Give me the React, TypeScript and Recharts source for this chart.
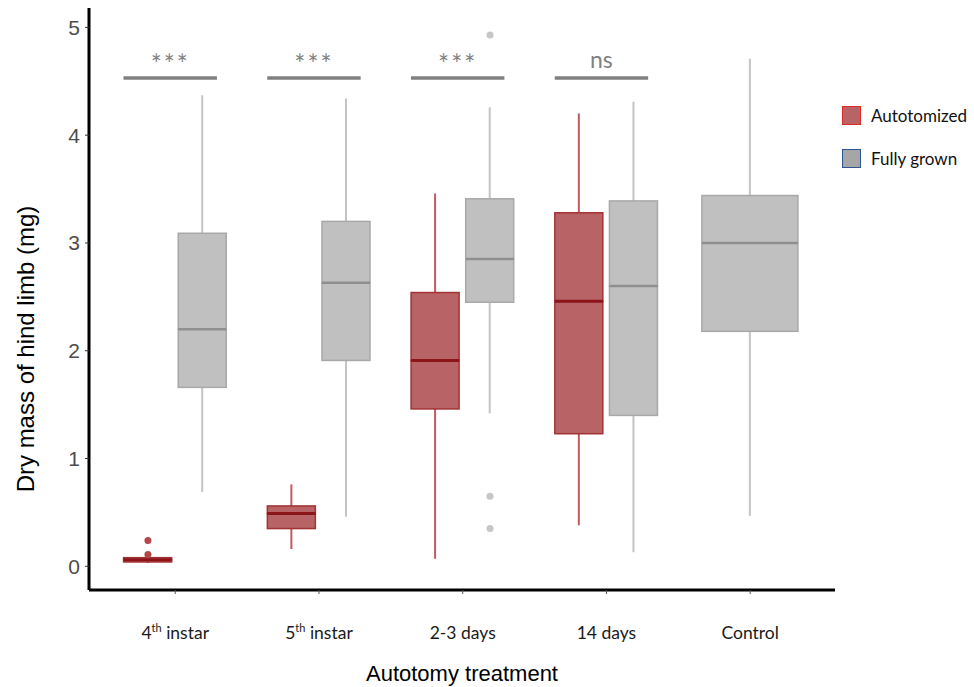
import React from "react";
import {
  Bar,
  ComposedChart,
  Label,
  ReferenceLine,
  Scatter,
  XAxis,
  YAxis,
} from "recharts";

const groups = ["4th instar", "5th instar", "2-3 days", "14 days", "Control"];
const seriesNames = ["Autotomized", "Fully grown"];

// one entry per box
const boxGroup = [1, 1, 2, 2, 3, 3, 4, 4, 5];
const boxSeries = [
  "Autotomized", "Fully grown",
  "Autotomized", "Fully grown",
  "Autotomized", "Fully grown",
  "Autotomized", "Fully grown",
  "Control",
];
const boxMin = [0.03, 0.69, 0.16, 0.46, 0.07, 1.42, 0.38, 0.13, 0.47];
const boxQ1 = [0.04, 1.66, 0.35, 1.91, 1.46, 2.45, 1.23, 1.4, 2.18];
const boxMedian = [0.06, 2.2, 0.49, 2.63, 1.91, 2.85, 2.46, 2.6, 3.0];
const boxQ3 = [0.08, 3.09, 0.56, 3.2, 2.54, 3.41, 3.28, 3.39, 3.44];
const boxMax = [0.09, 4.37, 0.76, 4.34, 3.46, 4.26, 4.2, 4.31, 4.71];

const outlierGroup = [1, 1, 3, 3, 3];
const outlierSeries = ["Autotomized", "Autotomized", "Fully grown", "Fully grown", "Fully grown"];
const outlierValue = [0.11, 0.24, 4.93, 0.65, 0.35];

const sigGroup = [1, 2, 3, 4];
const sigLabel = ["***", "***", "***", "ns"];
const sigLevel = 4.53;

const yTicks = [0, 1, 2, 3, 4, 5];

const DODGE = 0.19;
const xOf = (g: number, s: string) =>
  g + (s === "Autotomized" ? -DODGE : s === "Fully grown" ? DODGE : 0);

const rows = boxGroup.map((g, i) => ({
  x: xOf(g, boxSeries[i]),
  series: boxSeries[i],
  whisker: [boxMin[i], boxMax[i]],
  lower: [boxQ1[i], boxMedian[i]],
  upper: [boxMedian[i], boxQ3[i]],
}));

const outliers = outlierGroup.map((g, i) => ({
  x: xOf(g, outlierSeries[i]),
  y: outlierValue[i],
  series: outlierSeries[i],
}));

const RED = {
  fill: "#b86466",
  stroke: "#a23234",
  median: "#8b1518",
  whisker: "#c25a5c",
  point: "#b5474a",
};
const GREY = {
  fill: "#c0c0c0",
  stroke: "#a8a8a8",
  median: "#8f8f8f",
  whisker: "#c4c4c4",
  point: "#c6c6c6",
};
const palette = (s: string) => (s === "Autotomized" ? RED : GREY);

const WhiskerShape = (p: any) => {
  const cx = p.x + p.width / 2;
  return (
    <line
      x1={cx}
      x2={cx}
      y1={p.y}
      y2={p.y + p.height}
      stroke={palette(p.payload.series).whisker}
      strokeWidth={2}
    />
  );
};

const boxRect = (p: any) => {
  const c = palette(p.payload.series);
  const bw = p.payload.series === "Control" ? p.width * 2 : p.width;
  const left = p.x + p.width / 2 - bw / 2;
  return { c, bw, left };
};

const UpperShape = (p: any) => {
  const { c, bw, left } = boxRect(p);
  return (
    <rect x={left} y={p.y} width={bw} height={p.height} fill={c.fill} stroke={c.stroke} strokeWidth={1.5} />
  );
};

const LowerShape = (p: any) => {
  const { c, bw, left } = boxRect(p);
  const red = p.payload.series === "Autotomized";
  return (
    <g>
      <rect x={left} y={p.y} width={bw} height={p.height} fill={c.fill} stroke={c.stroke} strokeWidth={1.5} />
      <line x1={left} x2={left + bw} y1={p.y} y2={p.y} stroke={c.median} strokeWidth={red ? 3 : 2.5} />
    </g>
  );
};

const PointShape = (p: any) => (
  <circle cx={p.cx} cy={p.cy} r={3.5} fill={palette(p.payload.series).point} />
);

const CategoryTick = (p: any) => {
  const label = groups[Math.round(p.payload.value) - 1] ?? "";
  const m = label.match(/^(\d+)(th)(.*)$/);
  return (
    <text x={p.x} y={p.y} dy={43} textAnchor="middle" fill="#1a1a1a" fontSize={17.5} fontFamily="Lato">
      {m ? (
        <>
          <tspan>{m[1]}</tspan>
          <tspan fontSize={11} dy={-7}>{m[2]}</tspan>
          <tspan dy={7}>{m[3]}</tspan>
        </>
      ) : (
        label
      )}
    </text>
  );
};

const YTitle = (p: any) => {
  const vb = p.viewBox;
  const cx = 25;
  const cy = vb.y + vb.height / 2 + 50;
  return (
    <text
      x={cx}
      y={cy}
      transform={`rotate(-90, ${cx}, ${cy})`}
      textAnchor="middle"
      dominantBaseline="central"
      fontSize={24}
      fontFamily="Liberation Sans"
      fill="#000"
    >
      Dry mass of hind limb (mg)
    </text>
  );
};

const xDomain = [0.4, 5.59];

export default function App() {
  return (
    <div style={{ position: "absolute", left: 0, top: 0, width: 974, height: 687, background: "#fff" }}>
      <ComposedChart
        width={974}
        height={687}
        data={rows}
        margin={{ top: 8, right: 139, bottom: 0, left: 0 }}
        style={{ fontFamily: "Liberation Sans" }}
      >
        <XAxis
          xAxisId="main"
          dataKey="x"
          type="number"
          domain={xDomain}
          allowDataOverflow
          ticks={[1, 2, 3, 4, 5]}
          tick={<CategoryTick />}
          tickSize={4}
          tickLine={{ stroke: "#555", strokeWidth: 1 }}
          axisLine={{ stroke: "#000", strokeWidth: 3 }}
          height={97}
        >
          <Label
            value="Autotomy treatment"
            position="insideBottom"
            offset={6}
            fontSize={22}
            fill="#000"
            fontFamily="Liberation Sans"
          />
        </XAxis>
        <XAxis xAxisId="w" dataKey="x" type="number" domain={xDomain} allowDataOverflow hide height={0} />
        <XAxis xAxisId="hi" dataKey="x" type="number" domain={xDomain} allowDataOverflow hide height={0} />
        <XAxis xAxisId="lo" dataKey="x" type="number" domain={xDomain} allowDataOverflow hide height={0} />
        <YAxis
          type="number"
          domain={[-0.22, 5.18]}
          allowDataOverflow
          ticks={yTicks}
          width={89}
          tickSize={4}
          tickMargin={5}
          tick={{ fill: "#4d4d4d", fontSize: 21, fontFamily: "Liberation Sans" }}
          tickLine={{ stroke: "#333", strokeWidth: 1 }}
          axisLine={{ stroke: "#000", strokeWidth: 3 }}
        >
          <Label content={<YTitle />} />
        </YAxis>

        <Bar xAxisId="w" dataKey="whisker" barSize={48} shape={WhiskerShape} isAnimationActive={false} />
        <Bar xAxisId="hi" dataKey="upper" barSize={48} shape={UpperShape} isAnimationActive={false} />
        <Bar xAxisId="lo" dataKey="lower" barSize={48} shape={LowerShape} isAnimationActive={false} />

        <Scatter
          xAxisId="main"
          data={outliers}
          dataKey="y"
          shape={PointShape}
          isAnimationActive={false}
        />

        {sigGroup.map((g, i) => (
          <ReferenceLine
            key={g}
            xAxisId="main"
            segment={[
              { x: g - 0.36, y: sigLevel },
              { x: g + 0.29, y: sigLevel },
            ]}
            stroke="#808080"
            strokeWidth={3.5}
            label={{
              value: sigLabel[i],
              position: "top",
              offset: sigLabel[i] === "ns" ? 10 : 4,
              fill: "#808080",
              fontSize: sigLabel[i] === "ns" ? 23 : 26,
              fontFamily: "Lato",
              letterSpacing: sigLabel[i] === "ns" ? 0 : 2,
            }}
          />
        ))}
      </ComposedChart>

      <div style={{ position: "absolute", left: 842, top: 105, fontFamily: "Lato", fontSize: 17, color: "#111" }}>
        {seriesNames.map((s, i) => (
          <div key={s} style={{ display: "flex", alignItems: "center", height: 21, marginBottom: i === 0 ? 22 : 0 }}>
            <div
              style={{
                width: 17,
                height: 17,
                background: s === "Autotomized" ? "#b86466" : "#a6a6a6",
                border: `1.5px solid ${s === "Autotomized" ? "#e02a2a" : "#2f5597"}`,
                marginRight: 10,
              }}
            />
            <span>{s}</span>
          </div>
        ))}
      </div>
    </div>
  );
}
